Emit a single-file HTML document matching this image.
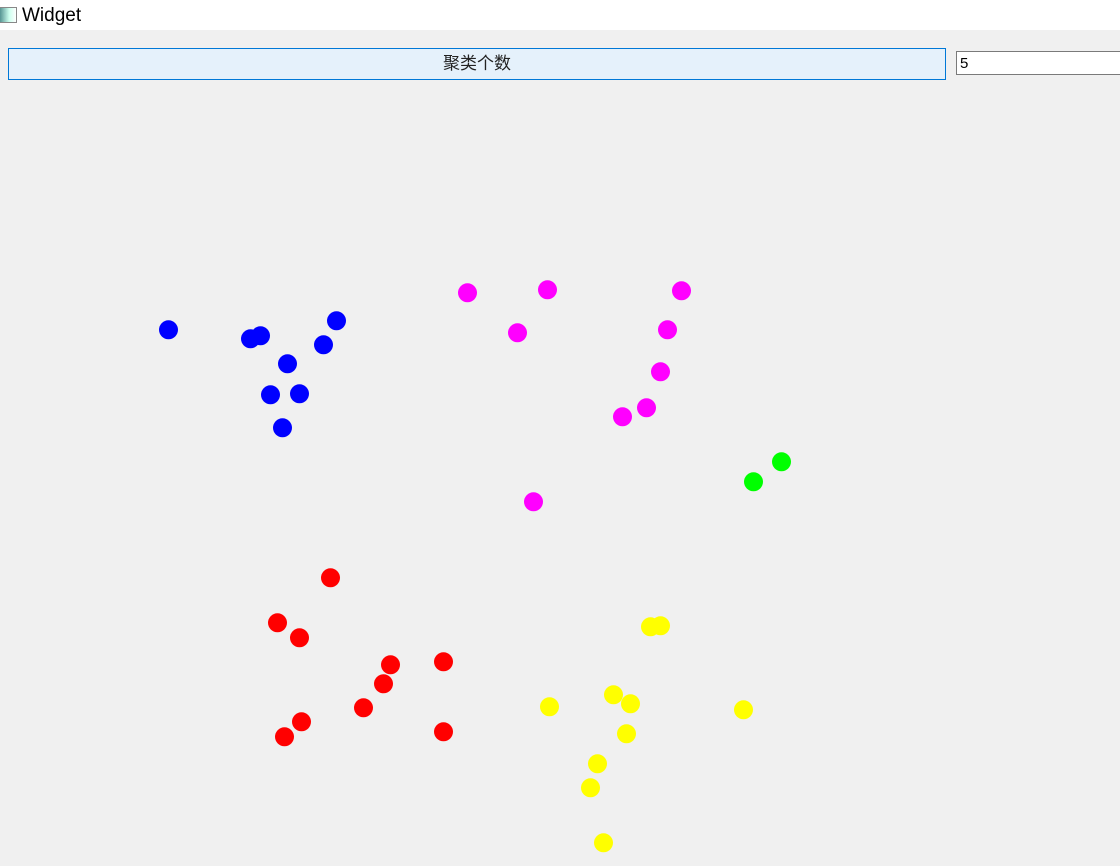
<!DOCTYPE html>
<html><head><meta charset="utf-8"><style>
body{margin:0;width:1120px;height:866px;overflow:hidden;background:#f0f0f0;font-family:"Liberation Sans","Noto Sans CJK SC",sans-serif;position:relative}
#title{position:absolute;left:0;top:0;width:1120px;height:30px;background:#fff}
#title span{position:absolute;left:22px;top:5px;font-size:19px;color:#000}
#icon{position:absolute;left:-2px;top:7px;width:17px;height:14px;border:1px solid #888;background:linear-gradient(90deg,#4a8a8a,#cfe 60%,#fff)}
#btn{position:absolute;left:8px;top:48px;width:936px;height:30px;border:1px solid #0078d7;background:#e5f1fb;font-size:17px;text-align:center;line-height:30px;color:#222}
#inp{position:absolute;left:956px;top:51px;width:170px;height:24px;border:1px solid #7a7a7a;background:#fff;font-size:15px;line-height:24px;padding-left:3px;box-sizing:border-box}
svg{position:absolute;left:0;top:0}
</style></head><body>
<div id="title"><div id="icon"></div><span>Widget</span></div>
<div id="btn">聚类个数</div>
<div id="inp">5</div>
<svg id="plot" width="1120" height="866"></svg>
<script>
const colors=["#0000ff","#ff00ff","#00ff00","#ff0000","#ffff00"];
const xs0=[168,250,260,336,323,287,270,299,282];
const ys0=[329,338,335,320,344,363,394,393,427];
const xs1=[467,547,681,517,667,660,646,622,533];
const ys1=[292,289,290,332,329,371,407,416,501];
const xs2=[781,753];
const ys2=[461,481];
const xs3=[330,277,299,390,443,383,363,301,284,443];
const ys3=[577,622,637,664,661,683,707,721,736,731];
const xs4=[650,660,549,613,630,743,626,597,590,603];
const ys4=[626,625,706,694,703,709,733,763,787,842];
const X=v=>v+0.5, Y=v=>v+0.8;
const svg=document.getElementById('plot');
[[xs0,ys0],[xs1,ys1],[xs2,ys2],[xs3,ys3],[xs4,ys4]].forEach((s,ci)=>{
 s[0].forEach((x,i)=>{
  const c=document.createElementNS('http://www.w3.org/2000/svg','circle');
  c.setAttribute('cx',X(x));c.setAttribute('cy',Y(s[1][i]));c.setAttribute('r',9.5);c.setAttribute('fill',colors[ci]);
  
  
  svg.appendChild(c);
 });
});
</script>
</body></html>
